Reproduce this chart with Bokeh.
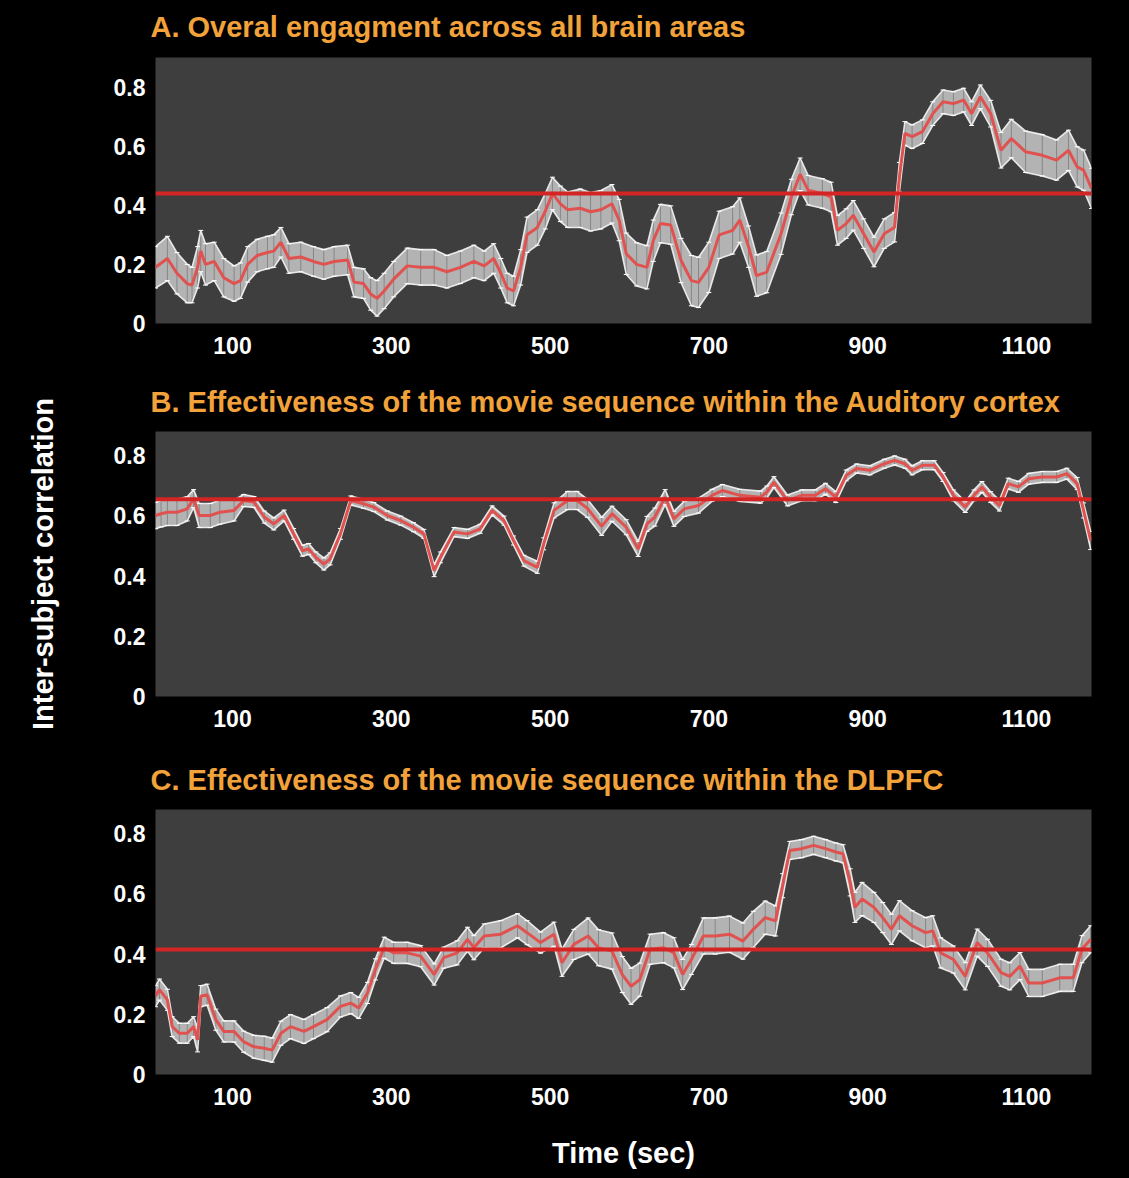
from bokeh.plotting import figure
from bokeh.layouts import column
from bokeh.models import Range1d, FixedTicker, ColumnDataSource, Span
from bokeh.embed import file_html
from bokeh.resources import INLINE

# ---------------- data ----------------
x_ticks = [100, 300, 500, 700, 900, 1100]
y_ticks = [0, 0.2, 0.4, 0.6, 0.8]

a_title = "A. Overal engagment across all brain areas"
a_time = [3, 18, 30, 43, 49, 56, 60, 66, 77, 89,
          102, 110, 119, 131, 144, 152, 161, 171, 186, 202,
          215, 228, 245, 253, 265, 274, 282, 291, 303, 320,
          337, 354, 370, 387, 404, 417, 429, 438, 446, 454,
          463, 471, 484, 494, 503, 513, 522, 538, 551, 564,
          578, 587, 596, 609, 622, 630, 639, 652, 665, 678,
          687, 700, 713, 730, 739, 750, 760, 773, 791, 804,
          815, 825, 843, 854, 862, 873, 882, 895, 908, 921,
          934, 940, 947, 956, 969, 982, 995, 1008, 1021, 1031,
          1042, 1055, 1068, 1081, 1099, 1120, 1138, 1153, 1164, 1172,
          1182]
a_mean = [0.19, 0.22, 0.17, 0.135, 0.13, 0.19, 0.245, 0.20, 0.21, 0.155,
          0.135, 0.145, 0.20, 0.23, 0.24, 0.245, 0.275, 0.22, 0.225, 0.21,
          0.20, 0.21, 0.215, 0.14, 0.135, 0.10, 0.085, 0.11, 0.15, 0.195,
          0.19, 0.19, 0.175, 0.19, 0.21, 0.195, 0.22, 0.17, 0.12, 0.11,
          0.19, 0.30, 0.325, 0.38, 0.44, 0.405, 0.385, 0.39, 0.378, 0.385,
          0.405, 0.35, 0.236, 0.20, 0.19, 0.28, 0.338, 0.333, 0.213, 0.145,
          0.139, 0.19, 0.30, 0.315, 0.35, 0.26, 0.162, 0.174, 0.304, 0.428,
          0.505, 0.451, 0.44, 0.428, 0.315, 0.338, 0.366, 0.304, 0.242, 0.304,
          0.326, 0.495, 0.643, 0.632, 0.649, 0.71, 0.75, 0.744, 0.756, 0.71,
          0.767, 0.71, 0.586, 0.626, 0.581, 0.569, 0.553, 0.586, 0.53, 0.519,
          0.457]
a_err = [0.07, 0.075, 0.07, 0.065, 0.06, 0.07, 0.07, 0.07, 0.065, 0.065,
         0.06, 0.06, 0.06, 0.055, 0.055, 0.055, 0.05, 0.05, 0.05, 0.05,
         0.05, 0.05, 0.05, 0.05, 0.05, 0.055, 0.06, 0.06, 0.06, 0.06,
         0.06, 0.06, 0.055, 0.055, 0.055, 0.05, 0.05, 0.05, 0.05, 0.05,
         0.06, 0.06, 0.06, 0.06, 0.055, 0.06, 0.06, 0.065, 0.065, 0.065,
         0.065, 0.07, 0.07, 0.073, 0.073, 0.07, 0.065, 0.065, 0.075, 0.085,
         0.085, 0.085, 0.08, 0.08, 0.075, 0.07, 0.07, 0.07, 0.07, 0.06,
         0.055, 0.05, 0.05, 0.05, 0.05, 0.05, 0.05, 0.05, 0.05, 0.05,
         0.05, 0.05, 0.04, 0.04, 0.04, 0.04, 0.04, 0.04, 0.04, 0.04,
         0.04, 0.045, 0.06, 0.065, 0.07, 0.07, 0.068, 0.068, 0.068, 0.068,
         0.068]
a_threshold = 0.44

b_title = "B. Effectiveness of the movie sequence within the Auditory cortex"
b_time = [3, 10, 18, 30, 43, 51, 58, 72, 84, 102,
          114, 127, 140, 152, 165, 177, 188, 196, 205, 215,
          223, 236, 249, 265, 278, 295, 312, 328, 341, 354,
          362, 379, 396, 412, 427, 442, 454, 467, 484, 492,
          505, 522, 534, 547, 565, 578, 596, 611, 622, 632,
          645, 656, 669, 687, 704, 717, 739, 765, 773, 782,
          799, 817, 834, 847, 860, 873, 886, 903, 921, 934,
          947, 956, 969, 984, 995, 1008, 1023, 1034, 1044, 1055,
          1066, 1077, 1090, 1103, 1120, 1138, 1151, 1164, 1172, 1181]
b_mean = [0.601, 0.607, 0.612, 0.612, 0.623, 0.657, 0.601, 0.601, 0.612, 0.618,
          0.651, 0.646, 0.596, 0.573, 0.601, 0.54, 0.484, 0.49, 0.462, 0.44,
          0.457, 0.54, 0.651, 0.64, 0.629, 0.601, 0.584, 0.562, 0.54, 0.418,
          0.462, 0.546, 0.54, 0.557, 0.618, 0.584, 0.518, 0.451, 0.429, 0.507,
          0.618, 0.651, 0.651, 0.625, 0.565, 0.607, 0.562, 0.49, 0.573, 0.596,
          0.662, 0.59, 0.623, 0.634, 0.668, 0.684, 0.668, 0.662, 0.679, 0.712,
          0.651, 0.668, 0.668, 0.69, 0.662, 0.734, 0.757, 0.751, 0.773, 0.784,
          0.773, 0.751, 0.768, 0.768, 0.729, 0.668, 0.629, 0.668, 0.696, 0.662,
          0.634, 0.707, 0.696, 0.723, 0.729, 0.729, 0.74, 0.707, 0.618, 0.518]
b_err = [0.044, 0.044, 0.044, 0.044, 0.04, 0.03, 0.04, 0.04, 0.04, 0.035,
         0.02, 0.018, 0.02, 0.02, 0.018, 0.018, 0.018, 0.018, 0.018, 0.02,
         0.02, 0.018, 0.015, 0.015, 0.015, 0.015, 0.015, 0.015, 0.015, 0.02,
         0.018, 0.015, 0.015, 0.015, 0.015, 0.015, 0.015, 0.018, 0.02, 0.02,
         0.025, 0.03, 0.03, 0.03, 0.03, 0.025, 0.025, 0.025, 0.025, 0.03,
         0.025, 0.025, 0.025, 0.025, 0.02, 0.02, 0.02, 0.02, 0.02, 0.018,
         0.018, 0.018, 0.018, 0.018, 0.018, 0.018, 0.015, 0.015, 0.015, 0.015,
         0.015, 0.015, 0.015, 0.015, 0.015, 0.018, 0.018, 0.018, 0.018, 0.018,
         0.018, 0.018, 0.018, 0.018, 0.018, 0.018, 0.018, 0.02, 0.025, 0.03]
b_threshold = 0.655

c_title = "C. Effectiveness of the movie sequence within the DLPFC"
c_time = [3, 8, 18, 24, 33, 43, 51, 56, 60, 68,
          79, 89, 102, 114, 127, 140, 150, 161, 173, 190,
          202, 219, 236, 249, 259, 270, 280, 291, 303, 320,
          337, 354, 366, 383, 396, 404, 417, 438, 459, 471,
          488, 505, 515, 530, 548, 561, 578, 591, 602, 613,
          626, 643, 656, 667, 678, 693, 708, 726, 743, 756,
          771, 784, 793, 802, 817, 832, 847, 860, 869, 878,
          884, 893, 908, 919, 930, 940, 956, 973, 982, 992,
          1008, 1023, 1038, 1051, 1068, 1079, 1092, 1103, 1120, 1142,
          1159, 1170, 1181]
c_mean = [0.26, 0.282, 0.248, 0.159, 0.137, 0.137, 0.159, 0.115, 0.26, 0.265,
          0.182, 0.143, 0.143, 0.109, 0.092, 0.087, 0.081, 0.137, 0.159, 0.143,
          0.159, 0.182, 0.226, 0.237, 0.221, 0.271, 0.349, 0.421, 0.404, 0.404,
          0.393, 0.332, 0.388, 0.404, 0.449, 0.421, 0.46, 0.466, 0.494, 0.471,
          0.438, 0.466, 0.371, 0.432, 0.46, 0.421, 0.41, 0.332, 0.293, 0.315,
          0.416, 0.421, 0.404, 0.332, 0.382, 0.46, 0.46, 0.466, 0.443, 0.482,
          0.521, 0.51, 0.627, 0.744, 0.75, 0.761, 0.75, 0.739, 0.733, 0.638,
          0.555, 0.583, 0.555, 0.521, 0.482, 0.527, 0.494, 0.471, 0.477, 0.404,
          0.382, 0.326, 0.438, 0.404, 0.338, 0.326, 0.36, 0.304, 0.304, 0.321,
          0.321, 0.416, 0.449]
c_err = [0.035, 0.035, 0.035, 0.033, 0.033, 0.033, 0.033, 0.04, 0.035, 0.035,
         0.035, 0.035, 0.035, 0.035, 0.038, 0.04, 0.04, 0.04, 0.04, 0.04,
         0.04, 0.04, 0.035, 0.035, 0.035, 0.035, 0.035, 0.035, 0.035, 0.035,
         0.035, 0.035, 0.035, 0.04, 0.04, 0.04, 0.04, 0.045, 0.04, 0.04,
         0.035, 0.04, 0.045, 0.05, 0.06, 0.06, 0.06, 0.06, 0.06, 0.055,
         0.05, 0.05, 0.05, 0.05, 0.05, 0.06, 0.06, 0.06, 0.06, 0.06,
         0.055, 0.05, 0.04, 0.03, 0.03, 0.03, 0.03, 0.03, 0.03, 0.045,
         0.05, 0.055, 0.05, 0.05, 0.05, 0.05, 0.05, 0.05, 0.05, 0.05,
         0.045, 0.045, 0.045, 0.045, 0.045, 0.045, 0.045, 0.045, 0.045, 0.045,
         0.045, 0.045, 0.045]
c_threshold = 0.415

# ---------------- styling ----------------
FONT = "Liberation Sans"
W = 1127
LEFT = 155
FRAME_W = 936
RIGHT = W - LEFT - FRAME_W


def make_panel(title, t, m, e, thr, ymax, height, top, bottom, title_standoff,
               xlabel=None, ylabel=None):
    p = figure(width=W, height=height,
               x_range=Range1d(3, 1182), y_range=Range1d(0, ymax),
               output_backend="svg", toolbar_location=None,
               min_border_left=LEFT, min_border_right=RIGHT,
               min_border_top=top, min_border_bottom=bottom,
               background_fill_color="#3e3e3e", border_fill_color="black",
               outline_line_color=None)
    p.title.text = title
    p.title.text_font = FONT
    p.title.text_font_size = "29px"
    p.title.text_font_style = "bold"
    p.title.text_color = "#f2a23a"
    p.title.align = "left"
    p.title.vertical_align = "top"
    p.title.offset = -5
    p.title.standoff = title_standoff

    p.grid.visible = False
    for ax in (p.xaxis, p.yaxis):
        ax.axis_line_color = None
        ax.major_tick_line_color = None
        ax.minor_tick_line_color = None
        ax.major_tick_out = 0
        ax.major_tick_in = 0
        ax.major_label_text_color = "white"
        ax.major_label_text_font = FONT
        ax.major_label_text_font_size = "23px"
        ax.major_label_text_font_style = "bold"
        ax.axis_label_text_color = "white"
        ax.axis_label_text_font = FONT
        ax.axis_label_text_font_size = "29px"
        ax.axis_label_text_font_style = "bold"
    p.xaxis.ticker = FixedTicker(ticks=x_ticks)
    p.yaxis.ticker = FixedTicker(ticks=y_ticks)
    p.yaxis.major_label_overrides = {0: "0", 0.2: "0.2", 0.4: "0.4", 0.6: "0.6", 0.8: "0.8"}
    p.xaxis.major_label_standoff = 13
    p.yaxis.major_label_standoff = 10
    if xlabel:
        p.xaxis.axis_label = xlabel
        p.xaxis.axis_label_standoff = 29
    if ylabel:
        p.yaxis.axis_label = ylabel
        p.yaxis.axis_label_standoff = 52

    lo = [mi - ei for mi, ei in zip(m, e)]
    hi = [mi + ei for mi, ei in zip(m, e)]
    src = ColumnDataSource(dict(t=t, m=m, lo=lo, hi=hi))
    p.varea(x="t", y1="lo", y2="hi", source=src, fill_color="#b3b3b3")
    p.segment(x0="t", y0="lo", x1="t", y1="hi", source=src,
              line_color="#7a7a7a", line_width=0.8)
    p.line("t", "hi", source=src, line_color="#f4f4f4", line_width=1.6, line_alpha=0.9)
    p.line("t", "lo", source=src, line_color="#f4f4f4", line_width=1.6, line_alpha=0.9)
    p.scatter("t", "hi", source=src, marker="dash", size=5, line_color="white")
    p.scatter("t", "lo", source=src, marker="dash", size=5, line_color="white")
    p.add_layout(Span(location=thr, dimension="width", line_color="#d42424",
                      line_width=4))
    p.line("t", "m", source=src, line_color="#e0524f", line_width=3)
    return p


pa = make_panel(a_title, a_time, a_mean, a_err, a_threshold, 0.90, 370, 63, 41, 26)
pb = make_panel(b_title, b_time, b_mean, b_err, b_threshold, 0.88, 378, 67, 46, 24,
                ylabel="Inter-subject correlation")
pc = make_panel(c_title, c_time, c_mean, c_err, c_threshold, 0.88, 434, 67, 102, 24,
                xlabel="Time (sec)")

layout = column(pa, pb, pc, spacing=0)
layout.styles = {"background-color": "black"}
html = file_html(layout, INLINE)
html = html.replace(
    "<head>",
    "<head><style>html,body{background:black;overflow:hidden;} "
    "body{position:relative;top:-6px;}</style>", 1)
open("out.html", "w").write(html)
